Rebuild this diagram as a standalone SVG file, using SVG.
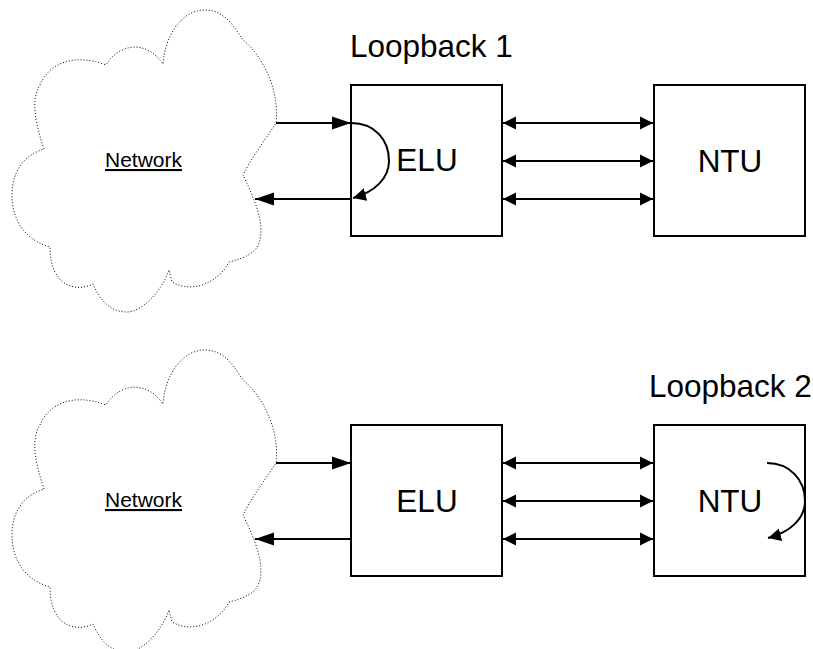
<svg xmlns="http://www.w3.org/2000/svg" width="813" height="649" viewBox="0 0 813 649">
<style>
.box{fill:none;stroke:#000;stroke-width:2}
.cloud{fill:none;stroke:#000;stroke-width:1;stroke-dasharray:1 2}
.l{fill:none;stroke:#000;stroke-width:2}
text{font-family:"Liberation Sans",Arial,sans-serif;fill:#000}
.big{font-size:31.5px}
.net{font-size:21px;text-decoration:underline}
</style>
<defs>
<marker id="a" markerUnits="userSpaceOnUse" markerWidth="20" markerHeight="16" refX="19" refY="8" orient="auto"><path d="M0,1.5 L19,8 L0,14.5 Z" fill="#000"/></marker>
<marker id="c" markerUnits="userSpaceOnUse" markerWidth="16" markerHeight="16" refX="13" refY="8" orient="auto-start-reverse"><path d="M0,1.5 L13,8 L0,14.5 Z" fill="#000"/></marker>
<path id="cl" class="cloud" d="M44,149 C36,125 30,100 40,85 C48,65 72,52 106,65 C118,45 145,38 163,64 C165,35 182,10 205,10 C225,10 235,28 243,40 C262,55 280,90 276,123 C265,140 250,160 243,175 C250,190 268,225 258,245 C255,253 245,258 229,262 C220,280 195,295 172,282 L169,270 C160,295 140,312 127,312 C110,312 100,300 93,284 C78,292 50,288 50,247 C25,240 12,220 12,195 C12,170 25,155 44,149 Z"/>
</defs>
<g id="network1"><use href="#cl"/><text class="net" x="143.5" y="167" text-anchor="middle">Network</text></g>
<g id="elu1"><rect class="box" x="351" y="85" width="151" height="151"/><text class="big" x="427" y="171" text-anchor="middle">ELU</text></g>
<g id="ntu1"><rect class="box" x="654" y="85" width="151" height="151"/><text class="big" x="730" y="172" text-anchor="middle">NTU</text></g>
<g id="label1"><text class="big" x="350" y="57">Loopback 1</text></g>
<g id="network2"><use href="#cl" y="340"/><text class="net" x="143.5" y="507" text-anchor="middle">Network</text></g>
<g id="elu2"><rect class="box" x="351" y="425" width="151" height="151"/><text class="big" x="427" y="512" text-anchor="middle">ELU</text></g>
<g id="ntu2"><rect class="box" x="654" y="425" width="151" height="151"/><text class="big" x="730" y="512" text-anchor="middle">NTU</text></g>
<g id="label2"><text class="big" x="649" y="397">Loopback 2</text></g>
<g id="connectors">
<path class="l" d="M276,123 H351" marker-end="url(#a)"/>
<path class="l" d="M351,199 H255" marker-end="url(#a)"/>
<path class="l" d="M503,123 H653" marker-start="url(#c)" marker-end="url(#c)"/>
<path class="l" d="M503,161 H653" marker-start="url(#c)" marker-end="url(#c)"/>
<path class="l" d="M503,199 H653" marker-start="url(#c)" marker-end="url(#c)"/>
<path class="l" d="M351,123 C375,123 389,140 389,161 C389,178 375,192 353,198" marker-end="url(#c)"/>
<path class="l" d="M276,463 H351" marker-end="url(#a)"/>
<path class="l" d="M351,539 H255" marker-end="url(#a)"/>
<path class="l" d="M503,463 H653" marker-start="url(#c)" marker-end="url(#c)"/>
<path class="l" d="M503,501 H653" marker-start="url(#c)" marker-end="url(#c)"/>
<path class="l" d="M503,539 H653" marker-start="url(#c)" marker-end="url(#c)"/>
<path class="l" d="M767,463 C790,463 805,480 805,501 C805,518 791,532 768,538" marker-end="url(#c)"/>
</g>
</svg>
